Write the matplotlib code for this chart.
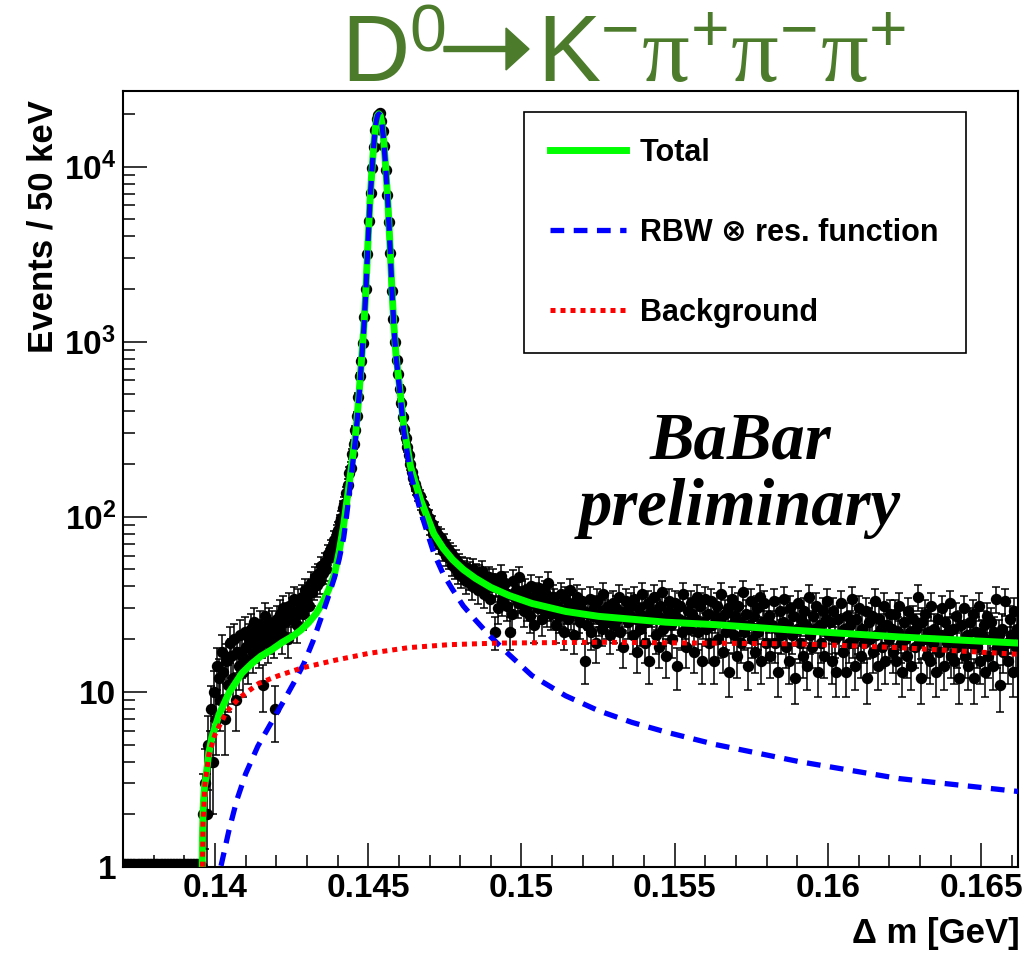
import numpy as np
import matplotlib.pyplot as plt
from matplotlib.patches import FancyArrow
from matplotlib.ticker import NullFormatter

plt.rcParams['font.family'] = ['Liberation Sans', 'DejaVu Sans']
plt.rcParams['font.weight'] = 'bold'
plt.rcParams['mathtext.fontset'] = 'custom'
plt.rcParams['mathtext.rm'] = 'Liberation Sans:weight=normal'
plt.rcParams['mathtext.bf'] = 'Liberation Sans:bold'
plt.rcParams['mathtext.it'] = 'Liberation Serif:italic'
plt.rcParams['mathtext.sf'] = 'Liberation Serif:weight=normal'

# histogram: 50 keV bins starting at 0.137 GeV
bin_lo = 0.137
bin_w = 0.00005

counts_empty = [0, 0, 0, 0, 0, 0, 0, 0, 0, 0,
                0, 0, 0, 0, 0, 0, 0, 0, 0, 0,
                0, 0, 0, 0, 0, 0, 0, 0, 0, 0,
                0, 0, 0, 0, 0, 0, 0, 0, 0, 0,
                0, 0, 0, 0, 0, 0, 0, 0, 0, 0,
                0]
counts_rise = [1, 2, 3, 2, 5, 4, 8, 4, 10, 7,
               14, 12, 9, 17, 13, 7, 15, 11, 19, 16,
               12, 20, 9, 17, 14, 21, 16, 13, 22, 18,
               15, 20, 23, 17, 25, 19, 21, 18, 24, 20,
               11, 27, 22, 19, 25, 21, 24, 20, 8, 26,
               23, 28, 21, 30, 25, 27, 20, 31, 26, 29,
               34, 27, 24, 33, 30, 35, 28, 38, 33, 36,
               31, 42, 37, 40, 45, 41, 47, 43, 52, 48,
               55, 50, 61, 58, 66, 63, 74, 70, 81, 84]
counts_peak = [93, 98, 112, 118, 137, 152, 178, 191, 228, 259,
               313, 377, 486, 640, 780, 980, 1380, 2000, 3160, 4900,
               7100, 9800, 12900, 16200, 18600, 19600, 20100, 18200, 15900, 13100,
               9600, 6900, 4800, 3200, 1950, 1350, 990, 790, 650, 540,
               447, 372, 316, 282, 251, 224, 200, 180, 166, 153,
               146, 135, 131, 121, 119, 108, 107, 97, 99, 88]
counts_fall = [91, 80, 84, 74, 79, 70, 76, 64, 71, 60,
               66, 58, 63, 53, 60, 51, 57, 48, 54, 46,
               52, 49, 43, 51, 45, 48, 40, 50, 44, 47,
               38, 46, 42, 49, 36, 44, 40, 45, 34, 41]
counts_flat = [44, 22, 41, 30, 39, 46, 33, 37, 42, 31,
               36, 22, 28, 43, 35, 38, 32, 45, 34, 37,
               29, 38, 31, 35, 27, 40, 33, 24, 36, 30,
               39, 32, 26, 34, 37, 29, 42, 31, 28, 35,
               33, 24, 31, 27, 36, 29, 22, 34, 30, 26,
               38, 28, 32, 21, 30, 35, 27, 25, 33, 29,
               15, 24, 28, 34, 22, 27, 30, 19, 33, 26,
               29, 23, 36, 28, 25, 31, 21, 27, 32, 24,
               30, 26, 35, 22, 28, 18, 29, 33, 25, 27,
               31, 21, 34, 26, 17, 30, 23, 36, 27, 19,
               25, 32, 15, 29, 26, 35, 21, 28, 18, 31,
               37, 23, 26, 16, 29, 33, 24, 20, 28, 32,
               14, 26, 31, 22, 36, 25, 18, 29, 23, 32,
               28, 17, 26, 35, 22, 31, 15, 25, 34, 23,
               28, 19, 33, 24, 15, 27, 31, 20, 25, 36,
               17, 28, 22, 30, 13, 24, 34, 21, 27, 16,
               31, 25, 19, 37, 22, 28, 14, 24, 33, 20,
               27, 17, 30, 22, 35, 15, 25, 32, 19, 24,
               27, 16, 24, 33, 19, 23, 13, 29, 21, 25,
               34, 18, 24, 15, 30, 21, 27, 12, 23, 32,
               19, 26, 16, 29, 24, 14, 35, 21, 18, 27,
               23, 31, 13, 24, 19, 29, 16, 26, 33, 21,
               25, 15, 29, 20, 13, 26, 21, 32, 17, 23,
               13, 27, 19, 24, 34, 20, 14, 26, 21, 30,
               16, 23, 19, 29, 12, 25, 20, 27, 17, 33,
               21, 14, 26, 23, 18, 31, 15, 24, 20, 28,
               23, 17, 28, 15, 22, 31, 19, 13, 25, 20,
               16, 29, 22, 14, 26, 18, 23, 35, 19, 12,
               25, 20, 28, 16, 22, 15, 31, 19, 23, 13,
               26, 17, 21, 30, 14, 25, 19, 22, 32, 16,
               23, 15, 27, 18, 12, 24, 19, 30, 16, 21,
               14, 25, 19, 28, 12, 22, 18, 31, 15, 21,
               24, 13, 27, 16, 20, 25, 14, 22, 34, 18,
               21, 11, 23, 17, 33, 19, 15, 26, 21, 13,
               29, 18, 23]

# fit curves (GeV, events per bin)
tot_x = [0.13957, 0.13959, 0.13962, 0.13966, 0.13970, 0.13980, 0.13990, 0.14013,
         0.14046, 0.14088, 0.14120, 0.14150, 0.14185, 0.14220, 0.14250, 0.14280,
         0.14305, 0.14330, 0.14350, 0.14370, 0.14390, 0.14405, 0.14420, 0.14430,
         0.14443, 0.14450, 0.14460, 0.14470, 0.144795, 0.14486, 0.144925, 0.14499,
         0.145055, 0.145121, 0.145186, 0.145251, 0.1453, 0.145349, 0.145398, 0.145447,
         0.145512, 0.145577, 0.145643, 0.145708, 0.145773, 0.145838, 0.145904, 0.146034,
         0.146164, 0.146383, 0.146709, 0.14714, 0.14745, 0.14775, 0.14810, 0.14850,
         0.14900, 0.14960, 0.15034, 0.15144, 0.15252, 0.15360, 0.15471, 0.15634,
         0.15905, 0.16231, 0.1662]
tot_y = [0.4, 1.5, 2.3, 2.9, 3.2, 4.5, 5.5, 7.4,
         9.9, 12.8, 14.5, 16.0, 17.4, 19.2, 20.6, 22.5,
         24.8, 28.0, 32.0, 38.0, 47.0, 63, 90, 122,
         180, 225, 310, 500, 850, 1230, 2000, 3630,
         6170, 9550, 13650, 17600, 19500, 20000, 19500, 17600,
         13650, 9550, 6170, 3630, 2000, 1230, 850, 530,
         326, 193, 125, 80, 66, 57, 50, 44.5,
         39.5, 35.5, 32.0, 28.8, 27.0, 26.0, 25.0, 24.2,
         22.4, 20.6, 19.0]

rbw_x = [0.14010, 0.14019, 0.14045, 0.14071, 0.14100, 0.14140, 0.14180, 0.14220,
         0.14260, 0.14290, 0.14320, 0.14345, 0.14370, 0.14390, 0.14405, 0.14420,
         0.14430, 0.14443, 0.14450, 0.14460, 0.14470, 0.144795, 0.14486, 0.144925,
         0.14499, 0.145055, 0.145121, 0.145186, 0.145251, 0.1453, 0.145349, 0.145398,
         0.145447, 0.145512, 0.145577, 0.145643, 0.145708, 0.145773, 0.145838, 0.145904,
         0.146034, 0.146164, 0.146383, 0.146709, 0.14714, 0.14745, 0.14775, 0.14810,
         0.14850, 0.14900, 0.14960, 0.15034, 0.15144, 0.15252, 0.15360, 0.15471,
         0.15634, 0.15905, 0.16231, 0.1662]
rbw_y = [0.75, 1.0, 1.6, 2.4, 3.4, 4.9, 6.5, 8.6,
         11.5, 14.5, 19.5, 26, 35, 45, 57, 76,
         103, 160, 205, 292, 482, 832, 1212, 1982,
         3612, 6152, 9530, 13630, 17580, 19480, 19980, 19480,
         17580, 13630, 9530, 6150, 3610, 1980, 1212, 832,
         512, 308, 175, 107, 62, 47, 38.5, 31, 25.7,
         20.6, 16.3, 12.4, 9.5, 7.8, 6.7, 5.9,
         5.0, 4.0, 3.2, 2.7]

bg_x = [0.13957, 0.13961, 0.139674, 0.139804, 0.14, 0.140359, 0.140783, 0.141435,
        0.142087, 0.142838, 0.143947, 0.145023, 0.146327, 0.147632, 0.149263, 0.152524,
        0.155786, 0.159048, 0.162309, 0.1662]
bg_y = [0.4, 1.8, 3.0, 4.4, 5.7, 7.6, 9.2, 11.2,
        12.4, 13.7, 15.2, 16.6, 17.9, 18.6, 19.0, 19.2,
        19.0, 18.8, 17.9, 16.4]

counts = np.array(counts_empty + counts_rise + counts_peak + counts_fall + counts_flat, dtype=float)
centers = bin_lo + bin_w * (np.arange(len(counts)) + 0.5)
filled = counts > 0

fig = plt.figure(figsize=(10.34, 9.56), dpi=100)
ax = fig.add_axes([0.11896, 0.0931, 0.86557, 0.81172])
ax.set_yscale('log')

ax.errorbar(centers[filled], counts[filled], yerr=np.sqrt(counts[filled]), fmt='o',
            color='black', ms=7.2, elinewidth=1.1, capsize=2.9, capthick=1.1, zorder=2)
# empty bins are drawn on the axis floor, ROOT style
ax.plot(centers[~filled], np.full((~filled).sum(), 1.04), 'o', color='black', ms=7.2, zorder=2)

ax.plot(tot_x, tot_y, color='#00ff00', lw=5, zorder=3, label='Total')
ax.plot(rbw_x, rbw_y, color='#0000ff', lw=3.8, ls=(0, (2.6, 1.8)), zorder=4,
        label='RBW \u2297 res. function')
ax.plot(bg_x, bg_y, color='#ff0000', lw=3.6, ls=(0, (1, 1)), zorder=5, label='Background')

ax.set_xlim(0.137, 0.1662)
ax.set_ylim(1, 2.7e4)
ax.set_xticks([0.14, 0.145, 0.15, 0.155, 0.16, 0.165])
ax.set_xticklabels(['0.14', '0.145', '0.15', '0.155', '0.16', '0.165'])
ax.set_xticks(np.arange(0.137, 0.16625, 0.001), minor=True)
ax.set_yticks([1, 10, 100, 1000, 10000])
ax.set_yticklabels(['1', '10', r'$\mathbf{10^{2}}$', r'$\mathbf{10^{3}}$', r'$\mathbf{10^{4}}$'])
ax.yaxis.set_minor_formatter(NullFormatter())
ax.tick_params(which='both', direction='in', top=False, right=False, width=1.1, labelsize=24)
ax.tick_params(which='major', length=17)
ax.tick_params(which='minor', length=8.5)
ax.tick_params(axis='x', pad=4)
ax.tick_params(axis='y', pad=5)
for s in ax.spines.values():
    s.set_linewidth(1.5)

leg = ax.legend(loc='upper left', bbox_to_anchor=(0.448, 0.661, 0.494, 0.312), mode='expand',
                prop=dict(size=22, weight='bold'), fancybox=False, edgecolor='black',
                framealpha=1, borderpad=0.85, labelspacing=1.63, handlelength=2.5,
                handletextpad=0.45, borderaxespad=0)
leg.get_frame().set_linewidth(1.2)

fig.text(740 / 1034, 1 - 411 / 956, 'BaBar\npreliminary', ha='center', va='top',
         multialignment='center', linespacing=1.13,
         family='Liberation Serif', style='italic', weight='bold', size=48)

fig.text(43 / 1034, 1 - 100 / 956, 'Events / 50 keV', rotation=90, ha='center', va='top',
         size=25, weight='bold')
fig.text(1020 / 1034, 1 - 943 / 956, '\u0394 m [GeV]', ha='right', va='baseline',
         size=25, weight='bold')

green = '#4b7b2b'
fig.text(341 / 1034, 1 - 82 / 956, r'$\mathrm{D}^{0}$', size=68, color=green,
         ha='left', va='baseline')
fig.patches.append(FancyArrow(444 / 1034, 1 - 49 / 956, 85 / 1034, 0, width=5 / 956,
                              head_width=42 / 956, head_length=23 / 1034,
                              length_includes_head=True, color=green,
                              transform=fig.transFigure, figure=fig))
fig.text(537 / 1034, 1 - 82 / 956,
         r'$\mathrm{K}^{-}\mathsf{\pi}^{+}\mathsf{\pi}^{-}\mathsf{\pi}^{+}$',
         size=68, color=green, ha='left', va='baseline')

fig.savefig('out.png', dpi=100)
